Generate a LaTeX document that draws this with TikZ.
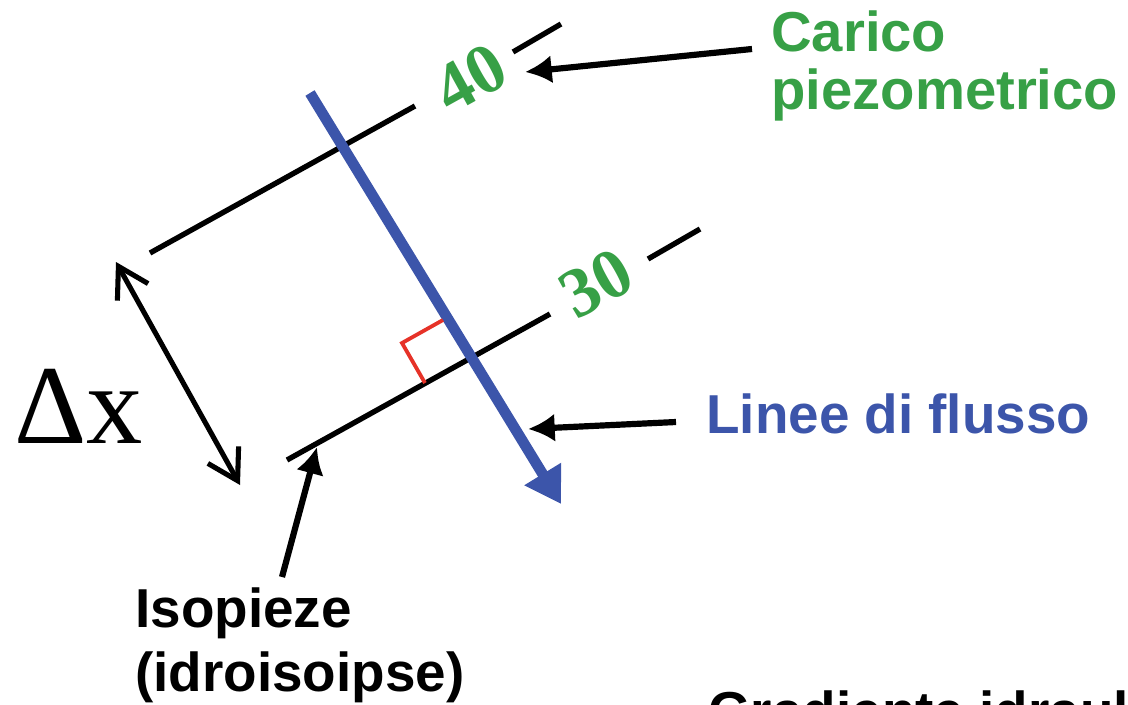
\documentclass[tikz,border=0pt]{standalone}
\usepackage{fontspec}
\setmainfont{Liberation Serif}
\newfontfamily\labfont{Liberation Sans}
\usetikzlibrary{arrows.meta}
\definecolor{isogreen}{RGB}{55,160,70}
\definecolor{flowblue}{RGB}{60,85,170}
\definecolor{rightred}{RGB}{230,50,40}

\begin{document}
\begin{tikzpicture}[x=0.025cm, y=-0.025cm,
  iso/.style={line width=3.8pt},
  ptr/.style={-{Latex[length=19pt, width=20pt]}, line width=4.4pt},
  dist/.style={{Straight Barb[length=21pt, width=25pt]}-{Straight Barb[length=21pt, width=25pt]}, line width=3.6pt},
  flow/.style={-{Triangle[length=25pt, width=29pt]}, line width=7.6pt, flowblue},
  num/.style={font=\fontsize{50}{50}\selectfont\bfseries, text=isogreen, rotate=29, inner sep=0pt},
  lab/.style={font=\labfont\bfseries\fontsize{39}{41.3}\selectfont, align=left, inner sep=0pt}]
  \useasboundingbox (0,0) rectangle (1128,704);
  \clip (0,0) rectangle (1128,704);
  % isopieze 40 and 30
  \coordinate (iso40a) at (150,253); \coordinate (iso40b) at (415,106);
  \coordinate (iso40c) at (513,52);  \coordinate (iso40d) at (561,24);
  \coordinate (iso30a) at (287,460); \coordinate (iso30b) at (550,314);
  \coordinate (iso30c) at (648,259); \coordinate (iso30d) at (700,229);
  \draw[iso] (iso40a) -- (iso40b);
  \draw[iso] (iso40c) -- (iso40d);
  \draw[iso] (iso30a) -- (iso30b);
  \draw[iso] (iso30c) -- (iso30d);
  \node[num] (n40) at (470,78) {40};
  \node[num] (n30) at (596,283) {30};
  % flow line and right angle
  \coordinate (flowA) at (310,93); \coordinate (flowB) at (561,504);
  \draw[flow] (flowA) -- (flowB);
  \draw[rightred, line width=2.7pt] (443,320) -- (402,343) -- (425,383);
  % distance between isopieze
  \coordinate (dxA) at (116,262); \coordinate (dxB) at (240,485);
  \draw[dist] (dxA) -- (dxB);
  \node[font=\fontsize{80}{80}\selectfont, anchor=base west, inner sep=0pt] (dx) at (14,443) {Δx};
  % labels
  \node[lab, font=\labfont\bfseries\fontsize{40}{41.3}\selectfont, text=isogreen, anchor=north west] (carico) at (771,10) {Carico\\piezometrico};
  \node[lab, text=flowblue, anchor=base west] (linee) at (706,433) {Linee di flusso};
  \node[lab, font=\labfont\bfseries\fontsize{39}{45.5}\selectfont, anchor=north west] (isopieze) at (135,587) {Isopieze\\(idroisoipse)};
  \node[lab, anchor=base west] (gradiente) at (708,730) {Gradiente idraul};
  \coordinate (carTail) at (752,49); \coordinate (carTip) at (525,72);
  \coordinate (linTail) at (676,422); \coordinate (linTip) at (528,429);
  \coordinate (isoTail) at (282,577); \coordinate (isoTip) at (317,447);
  \draw[ptr] (carTail) -- (carTip);
  \draw[ptr] (linTail) -- (linTip);
  \draw[ptr] (isoTail) -- (isoTip);
\end{tikzpicture}
\end{document}
